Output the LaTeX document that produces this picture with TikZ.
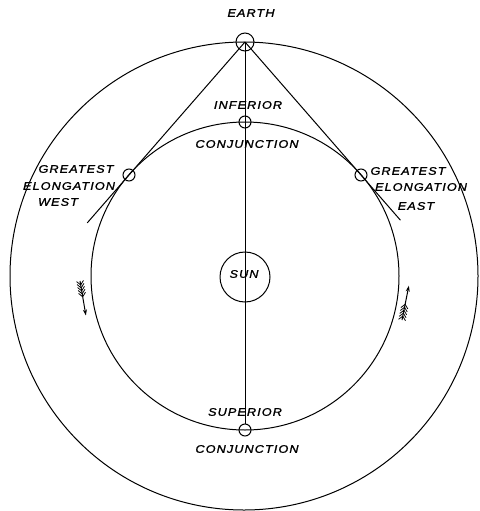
\documentclass[tikz,border=0pt]{standalone}
\usepackage{fontspec}
\newfontfamily\lettering{Liberation Sans}[LetterSpace=10,FakeStretch=1.15,FakeBold=1.5]
\usepackage{tikz}
\usetikzlibrary{arrows.meta,calc}

\tikzset{
  orbit/.style={line width=1pt},
  planet/.style={circle,draw,line width=1pt,inner sep=0pt,minimum size=12pt},
  caption/.style={font=\lettering\itshape\fontsize{11}{11}\selectfont,inner sep=0pt},
  fletched/.pic={
    \draw[line width=1pt,-{Stealth[length=6pt,width=4pt]}] (0,0) -- (35,0);
    \foreach \f in {0,3,6,9,12}
      \draw[line width=0.8pt] (\f+4,0) -- (\f,3.5) (\f+4,0) -- (\f,-3.5);
  }
}

\begin{document}
\begin{tikzpicture}[x=1pt,y=-1pt]
  \useasboundingbox (0,0) rectangle (479,511);
  % orbits and sun
  \draw[orbit] (244,276) circle[radius=234];
  \draw[orbit] (245,276) circle[radius=154];
  \node[planet,minimum size=50pt] (sun) at (245,277) {};
  % positions of the planet
  \node[planet,minimum size=18pt] (earth) at (245,42) {};
  \node[planet] (inf) at (245,122) {};
  \node[planet] (sup) at (245,430) {};
  \node[planet] (gw) at (129,175) {};
  \node[planet] (ge) at (361,175) {};
  % lines of sight
  \draw[orbit] (earth.center) -- (sup);
  \draw[orbit] (earth.center) -- ($(earth)!1.36!(gw)$);
  \draw[orbit] (earth.center) -- ($(earth)!1.34!(ge)$);
  % labels
  \node[caption] (earthlbl) at (251,13) {EARTH};
  \node[caption] (inflbl) at (248,105) {INFERIOR};
  \node[caption] (infconj) at (247,144) {CONJUNCTION};
  \node[caption] (suplbl) at (245,412) {SUPERIOR};
  \node[caption] (supconj) at (247,449) {CONJUNCTION};
  \node[caption] (sunlbl) at (244,274) {SUN};
  \node[caption] (gwa) at (76,169) {GREATEST};
  \node[caption] (gwb) at (69,186) {ELONGATION};
  \node[caption] (gwc) at (58,202) {WEST};
  \node[caption] (gea) at (408,171) {GREATEST};
  \node[caption] (geb) at (421,187) {ELONGATION};
  \node[caption] (gec) at (416,206) {EAST};
  % direction of motion
  \pic[rotate=-80.3] at (80,281) {fletched};
  \pic[rotate=78.7] at (402,320) {fletched};
\end{tikzpicture}
\end{document}
